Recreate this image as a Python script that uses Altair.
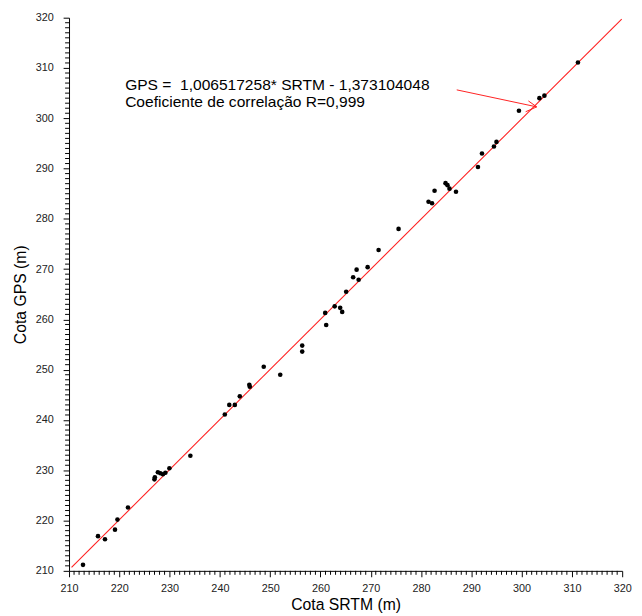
import altair as alt
import pandas as pd

srtm = [212.78, 215.76, 217.15, 219.14, 219.63, 221.72, 226.98, 227.07, 227.67, 228.17, 228.67, 229.16, 229.96,
        234.13, 240.98, 241.87, 242.97, 243.96, 245.85, 245.95, 248.72, 252.0, 256.37, 256.37, 261.14, 260.94,
        262.83, 263.92, 264.32, 265.11, 266.5, 267.59, 267.19, 269.38, 271.56, 275.53, 281.49, 282.19, 282.69,
        284.87, 285.26, 285.66, 286.95, 291.32, 292.12, 294.5, 295.0, 299.47, 303.54, 304.53, 311.2]
gps = [211.2, 216.9, 216.3, 218.2, 220.2, 222.6, 228.2, 228.6, 229.6, 229.4, 229.2, 229.5, 230.4, 232.9,
       241.1, 243.0, 243.0, 244.7, 247.0, 246.6, 250.6, 249.0, 254.8, 253.6, 258.9, 261.3, 262.6, 262.3,
       261.5, 265.5, 268.4, 267.9, 269.9, 270.4, 273.8, 278.0, 283.4, 283.1, 285.6, 287.1, 286.7, 286.0,
       285.4, 290.3, 293.0, 294.4, 295.3, 301.5, 304.0, 304.5, 311.1]

# regression line endpoints (GPS = 1,006517258*SRTM - 1,373104048)
line_x = [210.5, 319.9]
line_y = [210.7, 319.7]

# arrow segments (shaft and open head)
arrow_x = [287.1, 301.35, 300.8]
arrow_y = [305.65, 303.45, 301.3]
arrow_x2 = [303.0, 303.0, 303.0]
arrow_y2 = [302.27, 302.27, 302.27]

text_lines = ["GPS =\u00a0 1,006517258* SRTM - 1,373104048", "Coeficiente de correlação R=0,999"]
text_x = [221.16, 221.16]
text_y = [306.6, 303.2]

major_ticks = list(range(210, 321, 10))
minor_ticks = [v for v in range(210, 321) if v % 10 != 0]

W = 562
H = 562

pts = pd.DataFrame({"srtm": srtm, "gps": gps})
ln = pd.DataFrame({"srtm": line_x, "gps": line_y})
arr = pd.DataFrame({"x": arrow_x, "y": arrow_y, "x2": arrow_x2, "y2": arrow_y2})
txt = pd.DataFrame({"t": text_lines, "x": text_x, "y": text_y})
mn = pd.DataFrame({"v": minor_ticks})

FONT = "Liberation Sans"


def mk_axis(title, lpad, tpad):
    return alt.Axis(
        title=title, values=major_ticks, format="d", grid=False,
        labelOverlap=False, labelFlush=False,
        tickSize=6, tickColor="black", domainColor="black", labelColor="#222222",
        labelFont=FONT, labelFontSize=11, titleFont=FONT, titleFontSize=16,
        titleFontWeight="normal", titleColor="black", labelPadding=lpad, titlePadding=tpad,
    )


xs = alt.Scale(domain=[210, 320], nice=False, zero=False)
ys = alt.Scale(domain=[210, 320], nice=False, zero=False)

line = alt.Chart(ln).mark_line(color="#ff2020", strokeWidth=1.1, clip=True).encode(
    x=alt.X("srtm:Q", scale=xs, axis=mk_axis("Cota SRTM (m)", 6, 3)),
    y=alt.Y("gps:Q", scale=ys, axis=mk_axis("Cota GPS (m)", 10, 7)),
)

points = alt.Chart(pts).mark_circle(color="black", opacity=1, size=22).encode(
    x="srtm:Q", y="gps:Q"
)

arrow = alt.Chart(arr).mark_rule(color="#ff2020", strokeWidth=1).encode(
    x="x:Q", y="y:Q", x2="x2:Q", y2="y2:Q"
)

text = alt.Chart(txt).mark_text(align="left", baseline="middle", font=FONT, fontSize=15.8, color="black").encode(
    x="x:Q", y="y:Q", text="t:N"
)

# minor tick marks along both axes
x_minor = alt.Chart(mn).mark_rule(color="black", strokeWidth=1).encode(
    x="v:Q", y=alt.value(H), y2=alt.value(H + 4)
)
y_minor = alt.Chart(mn).mark_rule(color="black", strokeWidth=1).encode(
    y="v:Q", x=alt.value(-4), x2=alt.value(0)
)

chart = alt.layer(line, points, arrow, text, x_minor, y_minor).properties(
    width=W, height=H,
    autosize=alt.AutoSizeParams(type="none"),
    padding={"left": 62, "top": 5, "right": 12, "bottom": 41},
).configure_view(stroke=None)

chart.save("out.html", embed_options={"renderer": "svg", "actions": False})
